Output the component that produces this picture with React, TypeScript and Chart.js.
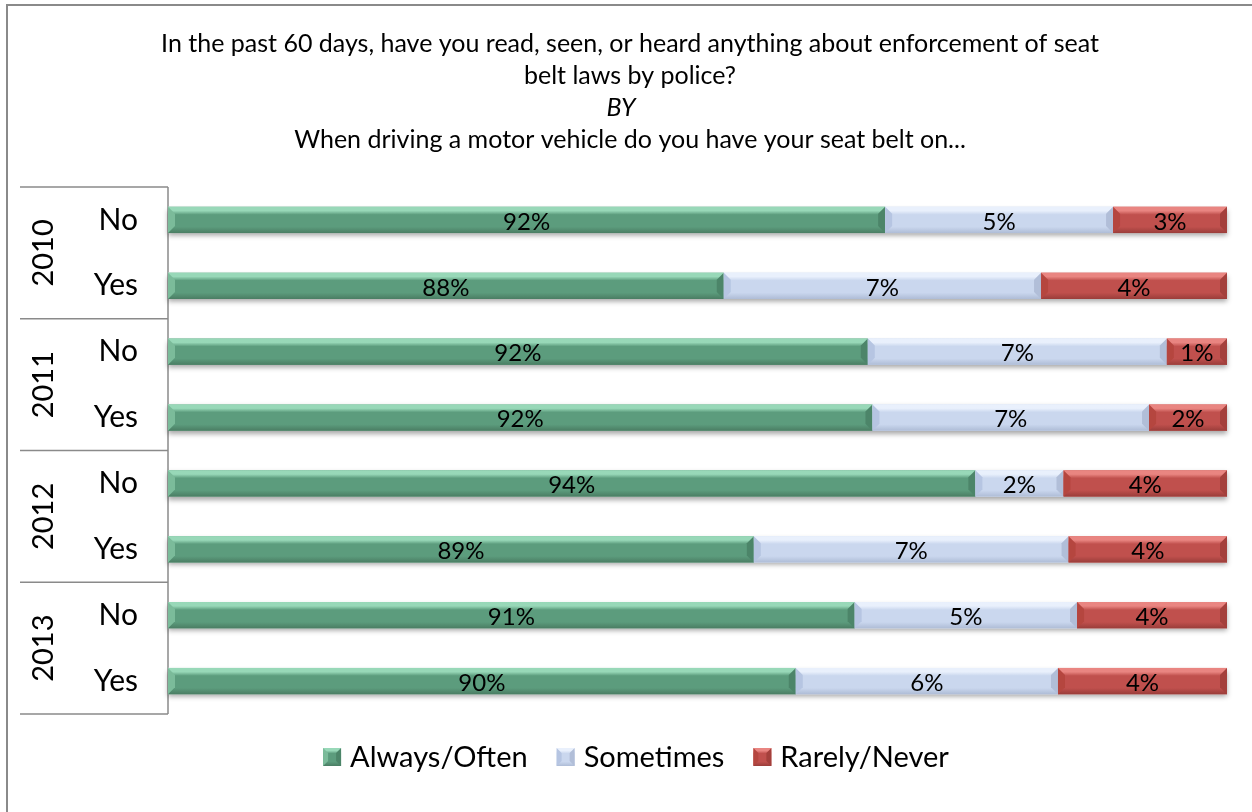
import React, { useEffect, useRef } from "react";
import { Chart, registerables } from "chart.js";

Chart.register(...registerables);

// ---------- data ----------
const years = ["2010", "2011", "2012", "2013"];
const answers = ["No", "Yes"];
const categories = years.flatMap(() => answers);
const alwaysOften = [91.93, 88.12, 91.52, 91.63, 94.06, 88.83, 91.21, 89.82];
const sometimes = [5.38, 7.49, 7.06, 6.53, 2.08, 7.43, 5.25, 6.19];
const rarelyNever = [2.69, 4.39, 1.42, 1.84, 3.86, 3.74, 3.54, 3.99];
const seriesNames = ["Always/Often", "Sometimes", "Rarely/Never"];
const titleLines = [
  "In the past 60 days, have you read, seen, or heard anything about enforcement of seat",
  "belt laws by police?",
  "BY",
  "When driving a motor vehicle do you have your seat belt on...",
];
const italicTitleLines = ["BY"];
const axisMin = 75;
const axisMax = 100;

// ---------- styles ----------
const FONT = "Lato, 'Open Sans', sans-serif";
const palette = [
  { main: "#5C9C7D", light: "#98D8B8", dark: "#4A7D63", lf: "#7BBB9A", rf: "#4C8569" },
  { main: "#CAD7EE", light: "#E9F0FC", dark: "#AEBCD6", lf: "#B6C5E2", rf: "#B1BED8" },
  { main: "#C0504D", light: "#E98581", dark: "#9A3D3A", lf: "#B5463F", rf: "#A4403C" },
];
const GRAY = "#8A8A8A";

type Pal = (typeof palette)[number];

function poly(ctx: CanvasRenderingContext2D, pts: number[][], color: string) {
  ctx.beginPath();
  ctx.moveTo(pts[0][0], pts[0][1]);
  for (let i = 1; i < pts.length; i++) ctx.lineTo(pts[i][0], pts[i][1]);
  ctx.closePath();
  ctx.fillStyle = color;
  ctx.fill();
}

function drawBevel(
  ctx: CanvasRenderingContext2D,
  l: number,
  t: number,
  r: number,
  b: number,
  pal: Pal,
  bev: number
) {
  const g = ctx.createLinearGradient(0, t, 0, b);
  g.addColorStop(0, pal.light);
  g.addColorStop(0.15, pal.light);
  g.addColorStop(0.3, pal.main);
  g.addColorStop(0.76, pal.main);
  g.addColorStop(1, pal.dark);
  ctx.fillStyle = g;
  ctx.fillRect(l, t, r - l, b - t);
  const bv = Math.min(bev, (r - l) / 2);
  poly(ctx, [[l, t], [l + bv, t + bev], [l + bv, b - bev], [l, b]], pal.lf);
  poly(ctx, [[r, t], [r - bv, t + bev], [r - bv, b - bev], [r, b]], pal.rf);
}

function barRect(el: any, area: any) {
  const p = el.getProps(["x", "y", "base", "height"], true);
  const l = Math.max(Math.min(p.x, p.base), area.left);
  const r = Math.max(p.x, p.base);
  const t = p.y - p.height / 2;
  const b = p.y + p.height / 2;
  return { l, r, t, b, y: p.y };
}

const decorPlugin = {
  id: "decor",
  beforeDraw(chart: any) {
    const ctx: CanvasRenderingContext2D = chart.ctx;
    const area = chart.chartArea;
    const yScale = chart.scales.y;
    ctx.save();
    // outer frame (top + left visible)
    ctx.fillStyle = GRAY;
    ctx.fillRect(6, 4, chart.width, 2);
    ctx.fillRect(6, 4, 2, chart.height);

    // title
    ctx.fillStyle = "#000";
    ctx.textAlign = "center";
    ctx.textBaseline = "alphabetic";
    titleLines.forEach((line, i) => {
      const it = italicTitleLines.includes(line);
      ctx.font = `${it ? "italic " : ""}25px ${FONT}`;
      ctx.fillText(line, it ? 621 : 630, 52 + i * 32);
    });

    // category box lines
    ctx.strokeStyle = GRAY;
    ctx.lineWidth = 1.5;
    const bounds = [area.top];
    for (let g = 1; g < years.length; g++) {
      const i = g * answers.length;
      bounds.push((yScale.getPixelForValue(i - 1) + yScale.getPixelForValue(i)) / 2);
    }
    bounds.push(area.bottom);
    ctx.beginPath();
    bounds.forEach((yy) => {
      ctx.moveTo(20, yy);
      ctx.lineTo(area.left, yy);
    });
    ctx.moveTo(area.left, area.top);
    ctx.lineTo(area.left, area.bottom);
    ctx.stroke();

    // year labels (rotated)
    ctx.font = `29px ${FONT}`;
    ctx.textAlign = "center";
    ctx.textBaseline = "middle";
    ctx.fillStyle = "#000";
    years.forEach((yr, g) => {
      const cy = (bounds[g] + bounds[g + 1]) / 2;
      ctx.save();
      ctx.translate(43, cy);
      ctx.rotate(-Math.PI / 2);
      ctx.fillText(yr, 0, 1);
      ctx.restore();
    });

    // legend
    ctx.font = `29px ${FONT}`;
    const box = 18;
    const gap = 9;
    const spacing = 29;
    const widths = seriesNames.map((n) => ctx.measureText(n).width);
    const total =
      widths.reduce((a, w) => a + box + gap + w, 0) + spacing * (seriesNames.length - 1);
    let x = 636 - total / 2;
    const ly = 757;
    ctx.textAlign = "left";
    ctx.textBaseline = "middle";
    seriesNames.forEach((n, i) => {
      drawBevel(ctx, x, ly - box / 2, x + box, ly + box / 2, palette[i], 5);
      ctx.fillStyle = "#000";
      ctx.fillText(n, x + box + gap, ly + 1);
      x += box + gap + widths[i] + spacing;
    });
    ctx.restore();
  },
  beforeDatasetsDraw(chart: any) {
    const ctx: CanvasRenderingContext2D = chart.ctx;
    const area = chart.chartArea;
    const last = chart.getDatasetMeta(chart.data.datasets.length - 1).data;
    const first = chart.getDatasetMeta(0).data;
    ctx.save();
    ctx.shadowColor = "rgba(0,0,0,0.35)";
    ctx.shadowBlur = 5;
    ctx.shadowOffsetY = 3;
    ctx.fillStyle = "#ffffff";
    first.forEach((el: any, i: number) => {
      const a = barRect(el, area);
      const z = barRect(last[i], area);
      ctx.fillRect(a.l, a.t, z.r - a.l, a.b - a.t);
    });
    ctx.restore();
  },
  afterDatasetsDraw(chart: any) {
    const ctx: CanvasRenderingContext2D = chart.ctx;
    const area = chart.chartArea;
    ctx.save();
    chart.data.datasets.forEach((ds: any, di: number) => {
      const meta = chart.getDatasetMeta(di);
      meta.data.forEach((el: any) => {
        const rc = barRect(el, area);
        drawBevel(ctx, rc.l, rc.t, rc.r, rc.b, palette[di], 7);
      });
    });
    ctx.font = `24px ${FONT}`;
    ctx.fillStyle = "#000";
    ctx.textAlign = "center";
    ctx.textBaseline = "middle";
    chart.data.datasets.forEach((ds: any, di: number) => {
      const meta = chart.getDatasetMeta(di);
      meta.data.forEach((el: any, i: number) => {
        const rc = barRect(el, area);
        ctx.fillText(`${Math.round(ds.data[i])}%`, (rc.l + rc.r) / 2, rc.y + 2);
      });
    });
    ctx.restore();
  },
};

export default function App() {
  const ref = useRef<HTMLCanvasElement>(null);
  useEffect(() => {
    const canvas = ref.current;
    if (!canvas) return;
    document.body.style.overflow = "hidden";
    const chart = new Chart(canvas, {
      type: "bar",
      data: {
        labels: categories,
        datasets: [alwaysOften, sometimes, rarelyNever].map((d, i) => ({
          label: seriesNames[i],
          data: d,
          backgroundColor: palette[i].main,
          borderWidth: 0,
          categoryPercentage: 1,
          barPercentage: 0.4,
        })),
      },
      options: {
        indexAxis: "y",
        animation: false,
        responsive: false,
        maintainAspectRatio: false,
        devicePixelRatio: 1,
        layout: { padding: { left: 20, right: 25, top: 187, bottom: 98 } },
        scales: {
          x: { stacked: true, min: axisMin, max: axisMax, display: false },
          y: {
            stacked: true,
            grid: { display: false },
            border: { display: false },
            afterFit: (s: any) => {
              s.width = 148;
            },
            ticks: { color: "#000", font: { family: FONT, size: 30 }, padding: 22 },
          },
        },
        plugins: {
          legend: { display: false },
          tooltip: { enabled: false },
          title: { display: false },
        },
      },
      plugins: [decorPlugin],
    } as any);
    return () => chart.destroy();
  }, []);
  return (
    <div
      style={{
        position: "absolute",
        left: 0,
        top: 0,
        width: 1252,
        height: 812,
        overflow: "hidden",
        background: "#fff",
      }}
    >
      <canvas ref={ref} width={1252} height={812} style={{ display: "block", width: 1252, height: 812 }} />
    </div>
  );
}
